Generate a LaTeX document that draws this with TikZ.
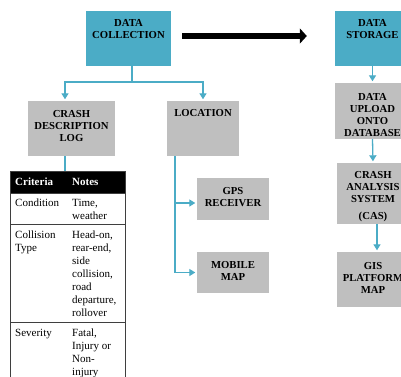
\documentclass[tikz,border=0pt]{standalone}
\usepackage{fontspec}
\setmainfont{Liberation Serif}
\usetikzlibrary{arrows.meta,calc}
\definecolor{accblue}{HTML}{4BACC6}
\definecolor{boxgray}{HTML}{BFBFBF}
\definecolor{tabline}{HTML}{3F3F3F}
\begin{document}
\begin{tikzpicture}[x=1pt,y=-1pt,
  bluebox/.style={draw=none,fill=accblue,inner sep=0pt},
  graybox/.style={draw=none,fill=boxgray,inner sep=0pt},
  btxt/.style={anchor=north,align=center,inner sep=0pt,font=\bfseries\fontsize{10.7}{12}\selectfont},
  ttxt/.style={anchor=north west,align=left,inner sep=0pt,font=\fontsize{11}{13}\selectfont},
  htxt/.style={ttxt,text=white,font=\bfseries\fontsize{11}{13}\selectfont},
  conn/.style={draw=accblue,line width=1.3pt},
  arr/.style={conn,-{Triangle[width=7pt,length=6pt]},shorten >=1.5pt},
  bigarrow/.style={draw=black,line width=6pt,-{Triangle[width=15pt,length=7pt]}},
  tline/.style={draw=tabline,line width=0.8pt}]
\useasboundingbox (0,0) rectangle (401,376);
\clip (0,0) rectangle (401,376);
\fill[white] (0,0) rectangle (401,376);
% boxes
\node[bluebox,minimum width=85pt,minimum height=55pt] (dc) at (128.5,38.5) {};
\node[graybox,minimum width=87pt,minimum height=55pt] (crash) at (71.5,128.5) {};
\node[graybox,minimum width=72pt,minimum height=55pt] (loc) at (203,128.5) {};
\node[graybox,minimum width=72pt,minimum height=42pt] (gps) at (233,199) {};
\node[graybox,minimum width=72pt,minimum height=41pt] (mob) at (233,272.5) {};
\node[bluebox,minimum width=75pt,minimum height=55pt] (ds) at (372.5,38.5) {};
\node[graybox,minimum width=75pt,minimum height=56pt] (du) at (372.5,111) {};
\node[graybox,minimum width=80pt,minimum height=61pt] (cas) at (377,193.5) {};
\node[graybox,minimum width=80pt,minimum height=55pt] (gis) at (377,279.5) {};
% box texts
\node[btxt] (dct) at (128.5,18.2) {\strut DATA\\\strut COLLECTION};
\node[btxt] (crasht) at (71.5,109.2) {\strut CRASH\\\strut DESCRIPTION\\\strut LOG};
\node[btxt] (loct) at (203,108.2) {\strut LOCATION};
\node[btxt] (gpst) at (233,186.2) {\strut GPS\\\strut RECEIVER};
\node[btxt] (mobt) at (233,260.2) {\strut MOBILE\\\strut MAP};
\node[btxt] (dst) at (372.5,18.2) {\strut DATA\\\strut STORAGE};
\node[btxt] (dut) at (372.5,92.2) {\strut DATA\\\strut UPLOAD\\\strut ONTO\\\strut DATABASE};
\node[btxt] (cast) at (373,170.2) {\strut CRASH\\\strut ANALYSIS\\\strut SYSTEM\\[5pt]\strut (CAS)};
\node[btxt] (gist) at (373,261.2) {\strut GIS\\\strut PLATFORM\\\strut MAP};
% connectors
\coordinate (br) at (132,82);
\draw[conn] ([xshift=3.5pt]dc.south) -- (br);
\draw[arr] (br) -| ([xshift=-6.5pt]crash.north);
\draw[arr] (br) -| (loc.north);
\coordinate (tabtop) at (65,171);
\draw[conn] ([xshift=-6.5pt]crash.south) -- (tabtop);
\coordinate (lv) at ([xshift=-28pt]loc.south);
\draw[arr] (lv) |- ([yshift=-4pt]gps.west);
\draw[arr] (lv) |- (mob.west);
\draw[bigarrow] ([xshift=11pt,yshift=2.5pt]dc.east) -- ([xshift=-28pt,yshift=2.5pt]ds.west);
\draw[arr] (ds.south) -- (du.north);
\draw[arr] (du.south) -- ([xshift=-4pt]cas.north);
\draw[arr] (cas.south) -- (gis.north);
% table
\fill[black] (10,171) rectangle (125,193);
\draw[tline] (10,380) -- (10,171) -- (125,171) -- (125,380);
\draw[tline] (10,193) -- (125,193);
\draw[tline] (10,224) -- (125,224);
\draw[tline] (10,322) -- (125,322);
\node[htxt] (h1) at (15,176.4) {\strut Criteria};
\node[htxt] (h2) at (72,176.4) {\strut Notes};
\node[ttxt] (r1a) at (15,197.4) {\strut Condition};
\node[ttxt] (r1b) at (72,197.4) {\strut Time,\\\strut weather};
\node[ttxt] (r2a) at (15,229.4) {\strut Collision\\\strut Type};
\node[ttxt] (r2b) at (72,229.4) {\strut Head-on,\\\strut rear-end,\\\strut side\\\strut collision,\\\strut road\\\strut departure,\\\strut rollover};
\node[ttxt] (r3a) at (15,327.4) {\strut Severity};
\node[ttxt] (r3b) at (72,327.4) {\strut Fatal,\\\strut Injury or\\\strut Non-\\\strut injury};
\end{tikzpicture}
\end{document}
